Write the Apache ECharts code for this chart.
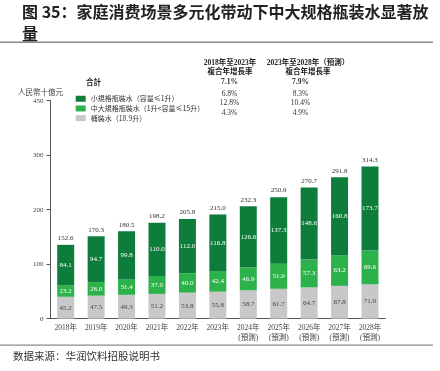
<!DOCTYPE html>
<html>
<head>
<meta charset="utf-8">
<script src="https://cdn.jsdelivr.net/npm/echarts@6/dist/echarts.min.js"></script>
<style>html,body{margin:0;padding:0;background:#fff}#c{width:440px;height:371px}</style>
</head>
<body>
<div id="c"></div>
<script>
var categories = ['2018年','2019年','2020年','2021年','2022年','2023年','2024年\n(預測)','2025年\n(預測)','2026年\n(預測)','2027年\n(預測)','2028年\n(預測)'];
var barrelWater = [45.2,47.5,49.3,51.2,53.8,55.8,58.7,61.7,64.7,67.8,71.0];
var midLargeBottle = [23.2,28.0,31.4,37.0,40.0,42.4,46.9,51.9,57.3,63.2,69.6];
var smallBottle = [84.1,94.7,99.8,110.0,112.0,116.8,126.6,137.3,148.6,160.8,173.7];
var totals = [152.6,170.3,180.5,198.2,205.8,215.0,232.3,250.9,270.7,291.8,314.3];
var yTickLabels = ['0','100','200','300','450'];
var seriesNames = ['小規格瓶裝水（容量≤1升）','中大規格瓶裝水（1升<容量≤15升）','桶裝水（18.9升）'];
var cagr1823 = ['7.1%','6.8%','12.8%','4.3%'];
var cagr2328 = ['7.9%','8.3%','10.4%','4.9%'];
var headers = ['2018年至2023年\n複合年增長率','2023年至2028年（預測）\n複合年增長率'];

var serif = '"Liberation Serif","Noto Sans CJK SC",serif';
var cjk = '"Noto Sans CJK SC",sans-serif';
var cDark = '#0e7d3b', cLight = '#2db24b', cGray = '#c8c8c8';

var chart = echarts.init(document.getElementById('c'), null, {renderer:'canvas'});

var rowY = [82.5, 93.7, 103.4, 113.1];
var graphics = [
  {type:'text', left:22, top:1, style:{text:'图 35：家庭消费场景多元化带动下中大规格瓶装水显著放\n量', font:'bold 16px '+cjk, fill:'#222', lineHeight:22}},
  {type:'rect', shape:{x:0,y:41.5,width:433,height:1.5}, style:{fill:'#8a8a8a'}},
  {type:'rect', shape:{x:0,y:344.5,width:433,height:1.2}, style:{fill:'#8a8a8a'}},
  {type:'text', left:13, top:351, style:{text:'数据来源：华润饮料招股说明书', font:'10.5px '+cjk, fill:'#333'}},
  {type:'text', x:63, y:92, style:{text:'人民幣十億元', font:'7.5px '+cjk, fill:'#444', textAlign:'right', textVerticalAlign:'middle'}},
  {type:'text', x:86, y:rowY[0], style:{text:'合計', font:'bold 7.5px '+cjk, fill:'#222', textAlign:'left', textVerticalAlign:'middle'}},
  {type:'text', x:230, y:67.5, style:{text:headers[0], font:'bold 7.5px '+serif, fill:'#222', textAlign:'center', textVerticalAlign:'middle', lineHeight:8.5}},
  {type:'text', x:308, y:67.5, style:{text:headers[1], font:'bold 7.5px '+serif, fill:'#222', textAlign:'center', textVerticalAlign:'middle', lineHeight:8.5}}
];
for (var i = 0; i < 4; i++) {
  var bold = i === 0 ? 'bold ' : '';
  graphics.push({type:'text', x:229.5, y:rowY[i], style:{text:cagr1823[i], font:bold+'7.5px '+serif, fill:'#333', textAlign:'center', textVerticalAlign:'middle'}});
  graphics.push({type:'text', x:300.5, y:rowY[i], style:{text:cagr2328[i], font:bold+'7.5px '+serif, fill:'#333', textAlign:'center', textVerticalAlign:'middle'}});
}

function segLabel(color){
  return {show:true, position:'inside', color:color, fontSize:7, fontFamily:serif,
    formatter:function(p){return p.value.toFixed(1);}};
}

chart.setOption({
  animation:false,
  backgroundColor:'#fff',
  graphic:graphics,
  legend:{
    orient:'vertical', left:70.7, top:88.9, itemWidth:10, itemHeight:6, itemGap:0, itemStyle:{borderWidth:0},
    icon:'rect', data:seriesNames,
    textStyle:{fontSize:7, fontFamily:cjk, color:'#333', lineHeight:9.7}
  },
  grid:{left:50.5, right:54.8, top:100.7, bottom:52.3},
  xAxis:{
    type:'category', data:categories,
    axisLine:{lineStyle:{color:'#555', width:1}},
    axisTick:{show:false},
    axisLabel:{fontSize:7.5, fontFamily:serif, color:'#444', margin:5, lineHeight:9.5, interval:0}
  },
  yAxis:{
    type:'value', min:0, max:450, interval:112.5,
    axisLine:{show:true, lineStyle:{color:'#555', width:1}},
    axisTick:{show:true, length:4, lineStyle:{color:'#555'}},
    splitLine:{show:false},
    axisLabel:{fontSize:7, fontFamily:serif, color:'#444', margin:7,
      formatter:function(v){return yTickLabels[Math.round(v/112.5)];}}
  },
  series:[
    {name:seriesNames[2], type:'bar', stack:'t', data:barrelWater, barWidth:17, itemStyle:{color:cGray}, label:segLabel('#444')},
    {name:seriesNames[1], type:'bar', stack:'t', data:midLargeBottle, barWidth:17, itemStyle:{color:cLight}, label:segLabel('#fff')},
    {name:seriesNames[0], type:'bar', stack:'t', data:smallBottle, barWidth:17, itemStyle:{color:cDark}, label:segLabel('#fff')},
    {name:'合計', type:'bar', stack:'t', barWidth:17, itemStyle:{color:'rgba(0,0,0,0)'},
      data:totals.map(function(){return 0;}),
      label:{show:true, position:'top', distance:3, color:'#333', fontSize:7, fontFamily:serif,
        formatter:function(p){return totals[p.dataIndex].toFixed(1);}}}
  ]
});
</script>
</body>
</html>
